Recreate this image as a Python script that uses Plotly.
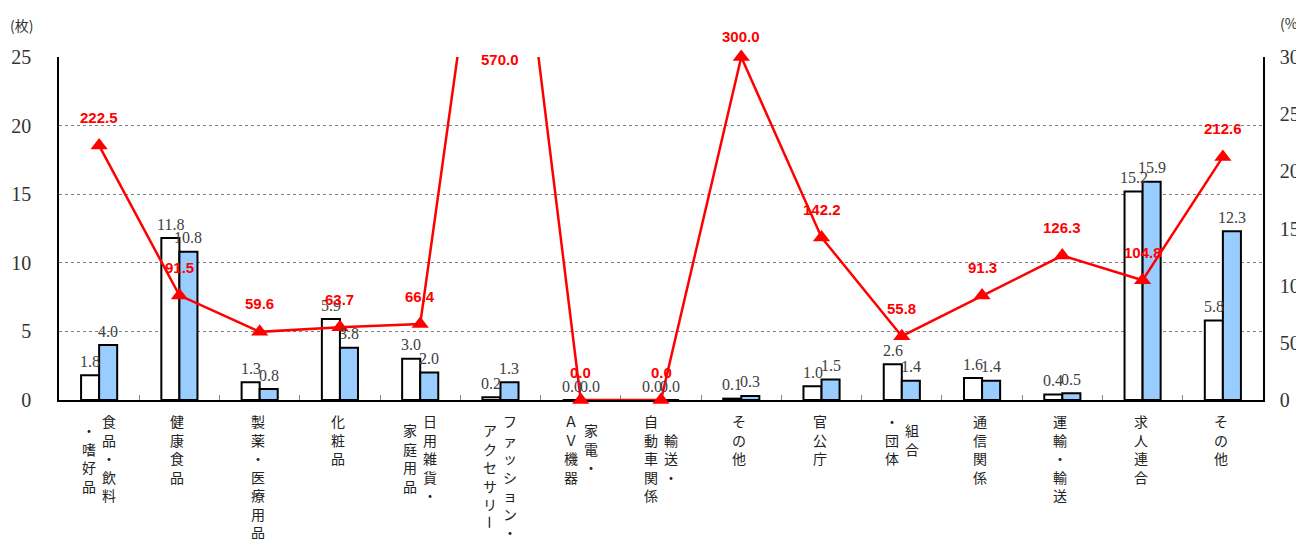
import plotly.graph_objects as go

# ---------------- data ----------------
categories = ["食品・飲料・嗜好品", "健康食品", "製薬・医療用品", "化粧品", "日用雑貨・家庭用品",
              "ファッション・アクセサリー", "家電・ＡＶ機器", "輸送・自動車関係", "その他", "官公庁",
              "組合・団体", "通信関係", "運輸・輸送", "求人連合", "その他"]
# vertical-writing columns of each category label (right column first)
label_columns = [["食品・飲料", "・嗜好品"], ["健康食品"], ["製薬・医療用品"], ["化粧品"],
                 ["日用雑貨・", "家庭用品"], ["ファッション・", "アクセサリー"], ["家電・", "ＡＶ機器"],
                 ["輸送・", "自動車関係"], ["その他"], ["官公庁"], ["組合", "・団体"], ["通信関係"],
                 ["運輸・輸送"], ["求人連合"], ["その他"]]
prev_values = [1.8, 11.8, 1.3, 5.9, 3.0, 0.2, 0.0, 0.0, 0.1, 1.0, 2.6, 1.6, 0.4, 15.2, 5.8]
curr_values = [4.0, 10.8, 0.8, 3.8, 2.0, 1.3, 0.0, 0.0, 0.3, 1.5, 1.4, 1.4, 0.5, 15.9, 12.3]
ratio_values = [222.5, 91.5, 59.6, 63.7, 66.4, 570.0, 0.0, 0.0, 300.0, 142.2, 55.8, 91.3, 126.3, 104.8, 212.6]
left_ticks = [0, 5, 10, 15, 20, 25]
right_ticks = [0, 50, 100, 150, 200, 250, 300]
left_unit = "(枚)"
right_unit = "(%)"

# ---------------- figure ----------------
xs = list(range(len(categories)))
LMAX = left_ticks[-1]
RMAX = right_ticks[-1]
SERIF = "Liberation Serif, DejaVu Serif, serif"
JP = "Noto Sans CJK JP, sans-serif"

# the page body has an 8px margin; figure sized so the plot lands where the reference has it
W, H = 1304, 531
ML, MR, MT, MB = 51, 49, 49, 139
PW, PH = W - ML - MR, H - MT - MB

fig = go.Figure()
fig.add_trace(go.Bar(x=xs, y=prev_values, name="前年", marker=dict(color="#FFFFFF", line=dict(color="#000000", width=2)),
                     hoverinfo="y"))
fig.add_trace(go.Bar(x=xs, y=curr_values, name="今年", marker=dict(color="#99CCFF", line=dict(color="#000000", width=2)),
                     hoverinfo="y"))
# ratio line (clipped to plot area)
fig.add_trace(go.Scatter(x=xs, y=ratio_values, yaxis="y2", mode="lines", line=dict(color="#FF0000", width=2.5),
                         cliponaxis=True, hoverinfo="skip"))
# ratio markers (not clipped, so triangles on the axes show fully)
fig.add_trace(go.Scatter(x=xs, y=ratio_values, yaxis="y2", mode="markers",
                         marker=dict(symbol="triangle-up", size=15, color="#FF0000"),
                         cliponaxis=False, hoverinfo="y"))

annotations = []
# bar value labels
for i, (p, c) in enumerate(zip(prev_values, curr_values)):
    annotations.append(dict(x=i, y=p, xref="x", yref="y", text=f"{p:.1f}", showarrow=False,
                            xshift=-9, yshift=14, font=dict(family=SERIF, size=16, color="#404040")))
    annotations.append(dict(x=i, y=c, xref="x", yref="y", text=f"{c:.1f}", showarrow=False,
                            xshift=9, yshift=14, font=dict(family=SERIF, size=16, color="#404040")))
# ratio labels
for i, r in enumerate(ratio_values):
    if r > RMAX:
        y, ys = RMAX, -2
    elif r == RMAX:
        y, ys = RMAX, 21
    else:
        y, ys = r, 28
    annotations.append(dict(x=i, y=y, xref="x", yref="y2", text=f"<b>{r:.1f}</b>", showarrow=False, yshift=ys,
                            font=dict(family="Liberation Sans, Arial, sans-serif", size=15, color="#FF0000")))
# vertical category labels
PITCH = 18.5
TOP = 21
for i, cols in enumerate(label_columns):
    maxlen = max(len(c) for c in cols)
    xsh = [-2] if len(cols) == 1 else [10, -10]
    for ci, col in enumerate(cols):
        off = (maxlen - len(col)) / 2 * PITCH
        for j, ch in enumerate(col):
            annotations.append(dict(x=i, y=0, xref="x", yref="paper", text=ch, showarrow=False,
                                    xshift=xsh[ci], yshift=-(TOP + off + j * PITCH), yanchor="middle",
                                    textangle=90 if ch == "ー" else 0,
                                    font=dict(family=JP, size=14, color="#222222")))
# unit labels (figure pixel positions -> paper coords)
annotations.append(dict(x=(0 - ML) / PW, y=(H - MB - 17) / PH, xref="paper", yref="paper", text=left_unit,
                        showarrow=False, xanchor="left", yanchor="middle",
                        font=dict(family=JP, size=14, color="#333333")))
annotations.append(dict(x=(1270 - ML) / PW, y=(H - MB - 15) / PH, xref="paper", yref="paper", text=right_unit,
                        showarrow=False, xanchor="left", yanchor="middle",
                        font=dict(family=JP, size=14, color="#333333")))

fig.update_layout(
    width=W, height=H,
    margin=dict(l=ML, r=MR, t=MT, b=MB, pad=0, autoexpand=False),
    paper_bgcolor="#FFFFFF", plot_bgcolor="#FFFFFF",
    barmode="group", bargap=0.55, bargroupgap=0,
    showlegend=False,
    annotations=annotations,
    xaxis=dict(range=[-0.5, len(categories) - 0.5], showticklabels=False, showgrid=False, zeroline=False,
               tickmode="array", tickvals=[i + 0.5 for i in xs[:-1]], ticks="inside", ticklen=5,
               tickcolor="#888888", tickwidth=1, showline=True, linecolor="#000000", linewidth=1.5,
               layer="below traces", fixedrange=True, automargin=False),
    yaxis=dict(range=[0, LMAX], tickmode="array", tickvals=left_ticks, showgrid=True, gridcolor="#808080",
               griddash="dot", gridwidth=1, zeroline=False, showline=True, linecolor="#000000", linewidth=1.5,
               ticks="", ticklabelstandoff=22, tickfont=dict(family=SERIF, size=20, color="#333333"),
               layer="below traces", fixedrange=True, automargin=False),
    yaxis2=dict(range=[0, RMAX], overlaying="y", side="right", tickmode="array", tickvals=right_ticks,
                showgrid=False, zeroline=False, showline=True, linecolor="#000000", linewidth=1.5,
                ticks="", ticklabelstandoff=11, tickfont=dict(family=SERIF, size=20, color="#333333"),
                layer="below traces", fixedrange=True, automargin=False),
)

fig.write_html("out.html")
